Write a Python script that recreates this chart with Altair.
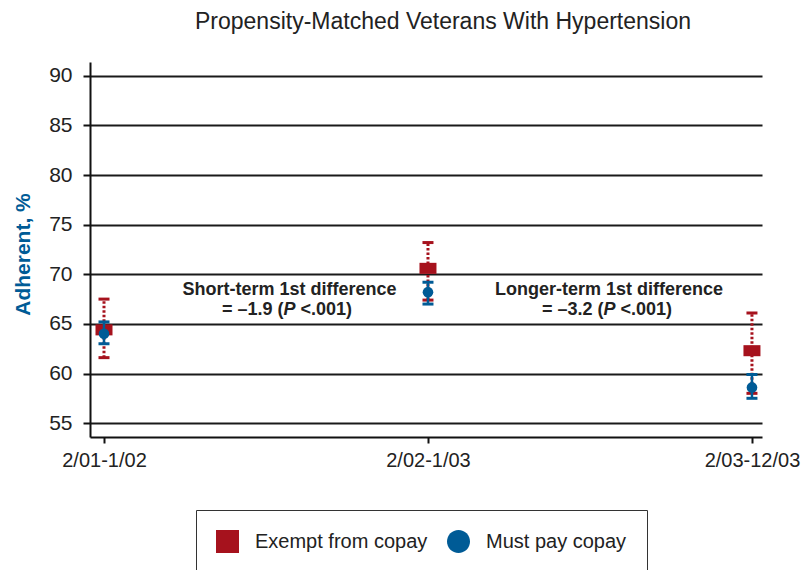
import json
import altair as alt
import pandas as pd

# ---- data ----
periods = ["2/01-1/02", "2/02-1/03", "2/03-12/03"]
period_index = [0, 1, 2]
groups = ["Exempt from copay", "Must pay copay"]

exempt_mean = [64.4, 70.6, 62.3]
exempt_low = [61.6, 67.4, 58.0]
exempt_high = [67.5, 73.2, 66.1]

pay_mean = [64.0, 68.2, 58.6]
pay_low = [63.0, 67.0, 57.5]
pay_high = [65.2, 69.2, 59.9]

y_ticks = [55, 60, 65, 70, 75, 80, 85, 90]

ann_line1 = ["Short-term 1st difference", "Longer-term 1st difference"]
ann_prefix = ["= \u20131.9 (", "= \u20133.2 ("]
ann_p = ["P", "P"]
ann_suffix = ["<.001)", "<.001)"]
ann_x1 = [0.5725, 1.5586]
ann_x2 = [0.565, 1.5525]
ann_y1 = [68.43, 68.43]
ann_y2 = [66.41, 66.41]

RED = "#a6121d"
BLUE = "#005b96"
FONT = "Liberation Sans"

exempt_df = pd.DataFrame({"idx": period_index, "period": periods, "mean": exempt_mean,
                          "lo": exempt_low, "hi": exempt_high})
pay_df = pd.DataFrame({"idx": period_index, "period": periods, "mean": pay_mean,
                       "lo": pay_low, "hi": pay_high})
legend_df = pd.concat([exempt_df.assign(group=groups[0]), pay_df.assign(group=groups[1])])
ann1_df = pd.DataFrame({"x": ann_x1, "y": ann_y1, "t": ann_line1})
ann2_df = pd.DataFrame({"x": ann_x2, "y": ann_y2, "pre": ann_prefix, "p": ann_p, "suf": ann_suffix})

label_expr = json.dumps(periods) + "[datum.value]"

x_scale = alt.Scale(domain=[-0.0432, 2.031], nice=False, zero=False)
y_scale = alt.Scale(domain=[53.6, 91.4], nice=False, zero=False)

x_axis = alt.Axis(values=period_index, labelExpr=label_expr, grid=False, title=None,
                  labelFontSize=20, labelFont=FONT, labelColor="#222", labelPadding=7,
                  tickSize=6, tickWidth=2, tickColor="#111", domainColor="#111",
                  domainWidth=2, labelFlush=False)
y_axis = alt.Axis(values=y_ticks, grid=True, gridColor="#1a1a1a", gridWidth=2,
                  title="Adherent, %", titleFontSize=21, titleFont=FONT, titleColor=BLUE,
                  titleFontWeight="bold", titlePadding=15, titleY=192,
                  labelFontSize=21, labelFont=FONT, labelColor="#222", labelPadding=11,
                  tickSize=7, tickWidth=2, tickColor="#111", domainColor="#111",
                  domainWidth=2)


def xq(field="idx"):
    return alt.X(f"{field}:Q", scale=x_scale, axis=x_axis)


def yq(field):
    return alt.Y(f"{field}:Q", scale=y_scale, axis=y_axis)


rect_path = "M-1,-0.65L1,-0.65L1,0.65L-1,0.65Z"
square_path = "M-1,-1L1,-1L1,1L-1,1Z"
circle_path = "M-1,0A1,1,0,1,1,1,0A1,1,0,1,1,-1,0Z"

# red (exempt)
red_rule = alt.Chart(exempt_df).mark_rule(color=RED, strokeWidth=3, strokeDash=[2.5, 2]).encode(
    x=xq(), y=yq("lo"), y2="hi")
red_cap_lo = alt.Chart(exempt_df).mark_tick(color=RED, orient="horizontal", size=11,
                                            thickness=3, opacity=1).encode(x=xq(), y=yq("lo"))
red_cap_hi = alt.Chart(exempt_df).mark_tick(color=RED, orient="horizontal", size=11,
                                            thickness=3, opacity=1).encode(x=xq(), y=yq("hi"))
red_pt = alt.Chart(exempt_df).mark_point(shape=rect_path, filled=True, color=RED, size=289,
                                         opacity=1).encode(x=xq(), y=yq("mean"))

# blue (must pay)
blue_rule = alt.Chart(pay_df).mark_rule(color=BLUE, strokeWidth=2.5).encode(
    x=xq(), y=yq("lo"), y2="hi")
blue_cap_lo = alt.Chart(pay_df).mark_tick(color=BLUE, orient="horizontal", size=11,
                                          thickness=3, opacity=1).encode(x=xq(), y=yq("lo"))
blue_cap_hi = alt.Chart(pay_df).mark_tick(color=BLUE, orient="horizontal", size=11,
                                          thickness=3, opacity=1).encode(x=xq(), y=yq("hi"))
blue_pt = alt.Chart(pay_df).mark_point(shape="circle", filled=True, color=BLUE, size=113,
                                       opacity=1).encode(x=xq(), y=yq("mean"))

legend = alt.Legend(orient="none", legendX=106, legendY=448, direction="horizontal",
                    title=None, padding=20, strokeColor="#333",
                    fillColor="white", labelFontSize=20, labelFont=FONT, labelColor="#222",
                    symbolSize=529, symbolOpacity=1, symbolStrokeWidth=0,
                    labelOffset=16, columnPadding=19, labelLimit=400)

legend_layer = alt.Chart(legend_df).mark_point(filled=True, opacity=0).encode(
    x=xq(), y=yq("mean"),
    color=alt.Color("group:N", scale=alt.Scale(domain=groups, range=[RED, BLUE]), legend=legend),
    shape=alt.Shape("group:N", scale=alt.Scale(domain=groups, range=[square_path, circle_path]),
                    legend=legend),
)

txt = dict(font=FONT, fontSize=18, fontWeight="bold", color="#222", baseline="middle")
ann_l1 = alt.Chart(ann1_df).mark_text(align="center", **txt).encode(
    x=xq("x"), y=yq("y"), text="t:N")
ann_pre = alt.Chart(ann2_df).mark_text(align="right", dx=-3.5, **txt).encode(
    x=xq("x"), y=yq("y"), text="pre:N")
ann_pp = alt.Chart(ann2_df).mark_text(align="left", dx=-3.5, fontStyle="italic", **txt).encode(
    x=xq("x"), y=yq("y"), text="p:N")
ann_suf = alt.Chart(ann2_df).mark_text(align="left", dx=13.5, **txt).encode(
    x=xq("x"), y=yq("y"), text="suf:N")

chart = alt.layer(
    legend_layer, red_rule, red_cap_lo, red_cap_hi, red_pt,
    blue_rule, blue_cap_lo, blue_cap_hi, blue_pt,
    ann_l1, ann_pre, ann_pp, ann_suf,
).properties(
    width=672, height=375,
    title=alt.TitleParams(text="Propensity-Matched Veterans With Hypertension", fontSize=23,
                          font=FONT, fontWeight="normal", color="#222", anchor="middle",
                          dx=17, offset=10, baseline="alphabetic"),
    autosize=alt.AutoSizeParams(type="none"),
    padding={"left": 82, "top": 54, "right": 42, "bottom": 140},
).configure_view(stroke=None)

chart.save("out.html", embed_options={"renderer": "svg", "actions": False})
